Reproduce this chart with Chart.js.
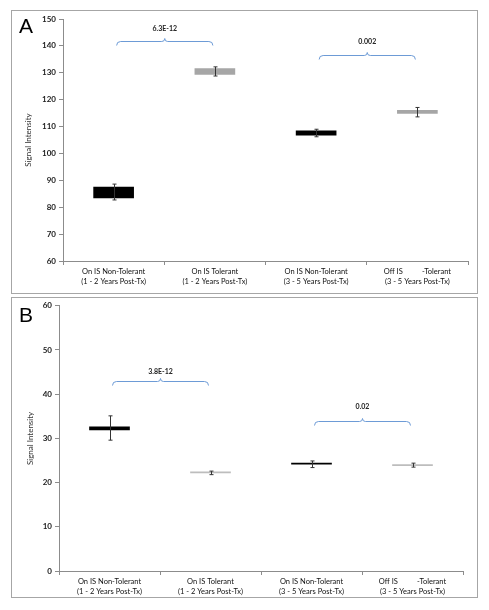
<!DOCTYPE html>
<html>
<head>
<meta charset="utf-8">
<script src="https://cdn.jsdelivr.net/npm/chart.js@4.4.1/dist/chart.umd.min.js"></script>
<style>
  body { margin: 0; background: #fff; }
  .panel { position: absolute; border: 1px solid #a6a6a6; }
  canvas { display: block; }
</style>
</head>
<body>
<div class="panel" style="left:11px; top:10px;"><canvas id="chartA" width="465" height="282"></canvas></div>
<div class="panel" style="left:11px; top:297px;"><canvas id="chartB" width="465" height="299"></canvas></div>
<script>
// categories (two-line labels)
const categories = [
  ['On IS Non-Tolerant', '(1 - 2 Years Post-Tx)'],
  ['On IS Tolerant', '(1 - 2 Years Post-Tx)'],
  ['On IS Non-Tolerant', '(3 - 5 Years Post-Tx)'],
  ['Off IS          -Tolerant', '(3 - 5 Years Post-Tx)']
];

// panel A: box low/high and error bar low/high
const aBoxLow = [83.5, 129.4, 106.8, 114.9];
const aBoxHigh = [87.5, 131.6, 108.4, 116.0];
const aErrLow = [82.7, 128.8, 106.2, 113.6];
const aErrHigh = [88.6, 132.2, 109.0, 117.1];
const aPairs = [[0, 1], [2, 3]];
const aBracketY = [141.8, 136.6];
const aPValues = ['6.3E-12', '0.002'];
const aPLabelY = [146.2, 141.4];

// panel B
const bBoxLow = [31.9, 22.2, 24.15, 23.85];
const bBoxHigh = [32.6, 22.45, 24.4, 24.1];
const bErrLow = [29.6, 21.8, 23.4, 23.5];
const bErrHigh = [35.1, 22.6, 24.9, 24.4];
const bPairs = [[0, 1], [2, 3]];
const bBracketY = [43.0, 33.9];
const bPValues = ['3.8E-12', '0.02'];
const bPLabelY = [45.0, 37.2];

const FONT = 'Lato, "Open Sans", sans-serif';

// error bars + brackets + panel letter
const extras = {
  id: 'extras',
  afterDatasetsDraw(chart, args, opts) {
    const { ctx, scales: { x, y } } = chart;
    const meta = chart.getDatasetMeta(0);
    ctx.save();
    // error bars
    ctx.strokeStyle = '#333';
    ctx.lineWidth = 1;
    meta.data.forEach((bar, i) => {
      const px = Math.round(bar.x) + 0.5;
      const yh = y.getPixelForValue(opts.errHigh[i]);
      const yl = y.getPixelForValue(opts.errLow[i]);
      ctx.beginPath();
      ctx.moveTo(px, yh); ctx.lineTo(px, yl);
      ctx.moveTo(px - 2, yh); ctx.lineTo(px + 2, yh);
      ctx.moveTo(px - 2, yl); ctx.lineTo(px + 2, yl);
      ctx.stroke();
    });
    // significance brackets
    opts.pairs.forEach((pair, k) => {
      const x1 = x.getPixelForValue(pair[0]) + 3;
      const x2 = x.getPixelForValue(pair[1]) - 2;
      const xm = (x1 + x2) / 2;
      const by = Math.round(y.getPixelForValue(opts.bracketY[k])) + 0.5;
      ctx.strokeStyle = '#6d9bd6';
      ctx.beginPath();
      ctx.moveTo(x1, by + 4);
      ctx.quadraticCurveTo(x1, by, x1 + 4, by);
      ctx.lineTo(xm - 3, by);
      ctx.quadraticCurveTo(xm, by, xm, by - 3);
      ctx.quadraticCurveTo(xm, by, xm + 3, by);
      ctx.lineTo(x2 - 4, by);
      ctx.quadraticCurveTo(x2, by, x2, by + 4);
      ctx.stroke();
      ctx.fillStyle = '#222';
      ctx.font = 'bold 7px ' + FONT;
      ctx.textAlign = 'center';
      ctx.textBaseline = 'middle';
      ctx.fillText(opts.pValues[k], xm, y.getPixelForValue(opts.pLabelY[k]));
    });
    // panel letter
    ctx.fillStyle = '#000';
    ctx.font = '21px "Liberation Sans", Arial, sans-serif';
    ctx.textAlign = 'left';
    ctx.textBaseline = 'alphabetic';
    ctx.fillText(opts.letter, 7, opts.letterY);
    ctx.restore();
  }
};

function makeChart(id, p) {
  return new Chart(document.getElementById(id), {
    type: 'bar',
    data: {
      labels: categories,
      datasets: [{
        data: p.low.map((v, i) => [v, p.high[i]]),
        backgroundColor: p.colors,
        borderWidth: 0,
        borderSkipped: false,
        barThickness: 40
      }]
    },
    options: {
      responsive: false,
      animation: false,
      events: [],
      layout: { autoPadding: false, padding: { left: 0, right: p.padRight, top: p.padTop, bottom: 0 } },
      plugins: {
        legend: { display: false },
        tooltip: { enabled: false },
        extras: p.extras
      },
      scales: {
        x: {
          afterFit(scale) { scale.height = p.xHeight; },
          border: { color: '#8c8c8c' },
          grid: { drawOnChartArea: false, tickLength: 4, color: '#8c8c8c' },
          ticks: {
            color: '#111', padding: 2, maxRotation: 0, autoSkip: false,
            font: { family: FONT, size: 7.5, lineHeight: 1.33 }
          }
        },
        y: {
          min: p.min, max: p.max,
          afterFit(scale) { scale.width = p.yWidth; },
          border: { color: '#8c8c8c' },
          grid: { drawOnChartArea: false, tickLength: 4, color: '#8c8c8c' },
          ticks: { stepSize: 10, color: '#222', padding: 3, font: { family: FONT, size: 8, weight: 'bold' } },
          title: {
            display: true, text: 'Signal Intensity', color: '#333',
            font: { family: FONT, size: 8 }, padding: { top: p.titlePad, bottom: 0 }
          }
        }
      }
    },
    plugins: [extras]
  });
}

makeChart('chartA', {
  low: aBoxLow, high: aBoxHigh,
  colors: ['#000000', '#a6a6a6', '#000000', '#a6a6a6'],
  min: 60, max: 150,
  padRight: 9, padTop: 8, xHeight: 32, yWidth: 51, titlePad: 12,
  extras: { errLow: aErrLow, errHigh: aErrHigh, pairs: aPairs, bracketY: aBracketY,
            pValues: aPValues, pLabelY: aPLabelY, letter: 'A', letterY: 22 }
});

makeChart('chartB', {
  low: bBoxLow, high: bBoxHigh,
  colors: ['#000000', '#bdbdbd', '#000000', '#bdbdbd'],
  min: 0, max: 60,
  padRight: 14, padTop: 6, xHeight: 26, yWidth: 47, titlePad: 14,
  extras: { errLow: bErrLow, errHigh: bErrHigh, pairs: bPairs, bracketY: bBracketY,
            pValues: bPValues, pLabelY: bPLabelY, letter: 'B', letterY: 24 }
});
</script>
</body>
</html>
